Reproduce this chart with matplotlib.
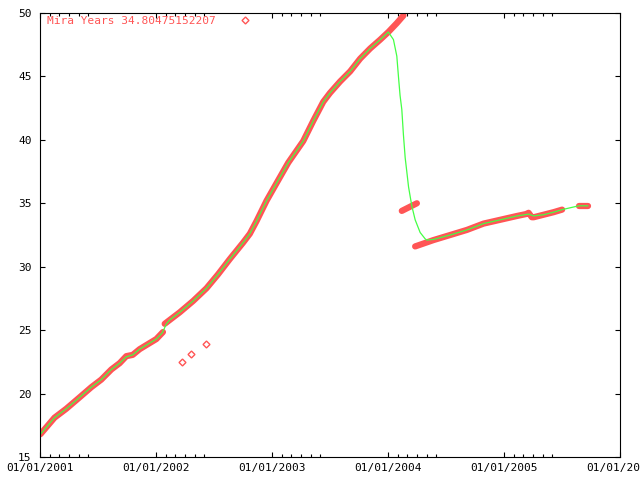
import numpy as np
import matplotlib
matplotlib.use("Agg")
import matplotlib.pyplot as plt
from matplotlib.lines import Line2D

seg1_t = [2001.004, 2001.125, 2001.226, 2001.341, 2001.442, 2001.528, 2001.615,
          2001.687, 2001.744, 2001.799, 2001.859, 2001.931, 2002.003, 2002.060]
seg1_v = [16.8, 18.1, 18.8, 19.7, 20.5, 21.1, 21.9,
          22.4, 22.95, 23.05, 23.5, 23.9, 24.3, 24.85]

seg2_t = [2002.075, 2002.118, 2002.204, 2002.320, 2002.435, 2002.535, 2002.636,
          2002.751, 2002.809, 2002.867, 2002.953, 2003.040, 2003.140, 2003.269,
          2003.356, 2003.442, 2003.500, 2003.587, 2003.674, 2003.760, 2003.846,
          2003.933, 2004.003, 2004.076, 2004.133]
seg2_v = [25.5, 25.8, 26.4, 27.3, 28.3, 29.4, 30.6,
          31.9, 32.6, 33.6, 35.2, 36.6, 38.2, 39.9,
          41.5, 43.0, 43.7, 44.6, 45.4, 46.4, 47.2,
          47.9, 48.5, 49.2, 49.8]

seg3_t = [2004.119, 2004.249]
seg3_v = [34.4, 35.0]

seg4_t = [2004.234, 2004.392, 2004.536, 2004.680, 2004.824, 2004.968, 2005.112,
          2005.190, 2005.212, 2005.240, 2005.256, 2005.342, 2005.428, 2005.501]
seg4_v = [31.6, 32.1, 32.5, 32.9, 33.4, 33.7, 34.0,
          34.15, 34.25, 33.9, 33.9, 34.1, 34.3, 34.5]

seg5_t = [2005.644, 2005.722]
seg5_v = [34.8, 34.8]

outlier_t = [2002.224, 2002.302, 2002.432]
outlier_v = [22.5, 23.1, 23.9]

# smoothed curve (green)
fit_t = [2001.004, 2001.125, 2001.226, 2001.341, 2001.442, 2001.528, 2001.615,
         2001.687, 2001.744, 2001.799, 2001.859, 2001.931, 2002.003, 2002.055,
         2002.090, 2002.118, 2002.204, 2002.320, 2002.435, 2002.535, 2002.636,
         2002.751, 2002.809, 2002.867, 2002.953, 2003.040, 2003.140, 2003.269,
         2003.356, 2003.442, 2003.500, 2003.587, 2003.674, 2003.760, 2003.846,
         2003.933, 2004.003, 2004.047, 2004.076, 2004.090, 2004.104, 2004.119,
         2004.133, 2004.148, 2004.162, 2004.177, 2004.205, 2004.234, 2004.277,
         2004.320, 2004.335, 2004.392, 2004.536, 2004.680, 2004.824, 2004.968,
         2005.112, 2005.212, 2005.256, 2005.342, 2005.428, 2005.501, 2005.644,
         2005.722]
fit_v = [16.8, 18.1, 18.8, 19.7, 20.5, 21.1, 21.9,
         22.4, 22.9, 23.05, 23.5, 23.9, 24.3, 24.8,
         25.5, 25.8, 26.4, 27.3, 28.3, 29.4, 30.6,
         31.9, 32.6, 33.6, 35.2, 36.6, 38.2, 39.9,
         41.5, 43.0, 43.7, 44.6, 45.4, 46.4, 47.2,
         47.9, 48.5, 47.9, 46.6, 45.0, 43.5, 42.4,
         40.4, 38.6, 37.5, 36.3, 34.8, 33.7, 32.7,
         32.2, 32.1, 32.15, 32.5, 32.9, 33.4, 33.7,
         34.0, 34.15, 34.0, 34.1, 34.3, 34.5, 34.8,
         34.8]

years = [2001, 2002, 2003, 2004, 2005, 2006]
year_labels = ["01/01/%d" % y for y in years]
yticks = [15, 20, 25, 30, 35, 40, 45, 50]

RED = "#ff5555"
GREEN = "#44ff44"
FONT = "DejaVu Sans Mono"

fig = plt.figure(figsize=(6.4, 4.8), dpi=100)
ax = fig.add_axes([40 / 640, 23 / 480, 580 / 640, 444 / 480])

for t, v in [(seg1_t, seg1_v), (seg2_t, seg2_v), (seg3_t, seg3_v),
             (seg4_t, seg4_v), (seg5_t, seg5_v)]:
    ax.plot(t, v, "-", color=RED, lw=4.5, solid_capstyle="round",
            solid_joinstyle="round")
ax.plot(outlier_t, outlier_v, "D", color=RED, ms=3.5, mfc="none", mew=1)
ax.plot(fit_t, fit_v, "-", color=GREEN, lw=0.9)

ax.set_xlim(2001, 2006)
ax.set_ylim(15, 50)
ax.set_xticks(years)
ax.set_xticklabels(year_labels)
minor = [y + m / 12 for y in years[:-1] for m in range(1, 6)]
ax.set_xticks(minor, minor=True)
ax.set_yticks(yticks)
ax.set_yticklabels([str(v) for v in yticks])

ax.tick_params(which="both", direction="in", top=True, right=True,
               width=0.8, color="black", labelsize=8)
ax.tick_params(which="major", length=3.5)
ax.tick_params(which="minor", length=2)
ax.tick_params(axis="x", pad=4)
ax.tick_params(axis="y", pad=6)
for lab in ax.get_xticklabels() + ax.get_yticklabels():
    lab.set_family(FONT)
for s in ax.spines.values():
    s.set_linewidth(0.8)

handle = Line2D([], [], marker="D", ls="none", color=RED, ms=3.5, mfc="none", mew=1)
leg = ax.legend([handle], ["Mira Years 34.80475152207"], loc="upper left",
                bbox_to_anchor=(0.012, 0.993), borderaxespad=0, borderpad=0,
                frameon=False, markerfirst=False, handlelength=2,
                handletextpad=1.6, labelcolor=RED,
                prop={"family": FONT, "size": 8})

fig.savefig("out.png", dpi=100)
